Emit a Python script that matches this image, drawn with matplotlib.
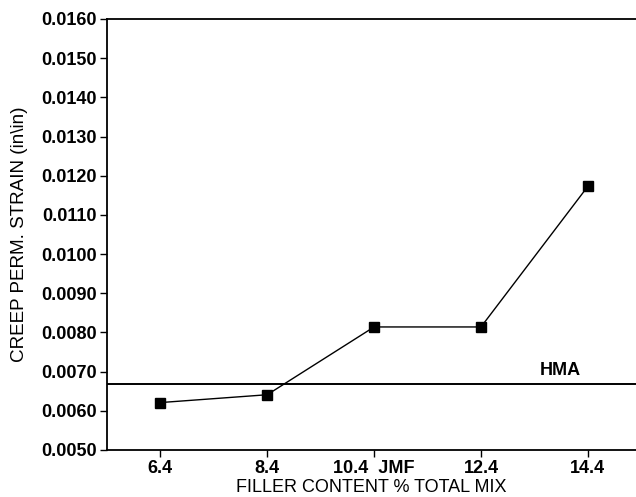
import matplotlib.pyplot as plt
import numpy as np

plt.rcParams["font.family"] = ["Liberation Sans", "DejaVu Sans"]

filler_labels = ["6.4", "8.4", "10.4  JMF", "12.4", "14.4"]
creep_strain = [0.00621, 0.00641, 0.00814, 0.00814, 0.01173]
hma_strain = 0.00669

x = np.arange(len(filler_labels))

fig = plt.figure(figsize=(6.36, 4.97), dpi=100)
ax = fig.add_axes([0.168, 0.0946, 0.832, 0.8672])

ax.plot(x, creep_strain, color="black", linewidth=1.0, marker="s",
        markersize=7.5, markerfacecolor="black", markeredgecolor="black")
ax.axhline(hma_strain, color="black", linewidth=1.4)
ax.text(3.55, hma_strain + 0.00012, "HMA", fontsize=13, fontweight="bold",
        ha="left", va="bottom")

ax.set_xlim(-0.5, 4.45)
ax.set_ylim(0.0050, 0.0160)
yt = np.arange(0.0050, 0.01601, 0.0010)
ax.set_yticks(yt)
ax.set_yticklabels(["%.4f" % v for v in yt], fontsize=13, fontweight="bold")
ax.set_xticks(x)
ax.set_xticklabels(filler_labels, fontsize=13, fontweight="bold")
ax.tick_params(axis="both", direction="out", length=5, width=1, pad=2)

ax.spines["right"].set_visible(False)
for s in ["left", "top", "bottom"]:
    ax.spines[s].set_linewidth(1.3)

ax.set_ylabel("CREEP PERM. STRAIN (in\\in)", fontsize=13.6, labelpad=10)
ax.set_xlabel("FILLER CONTENT % TOTAL MIX", fontsize=13, labelpad=2)

fig.savefig("out.png", dpi=100)
